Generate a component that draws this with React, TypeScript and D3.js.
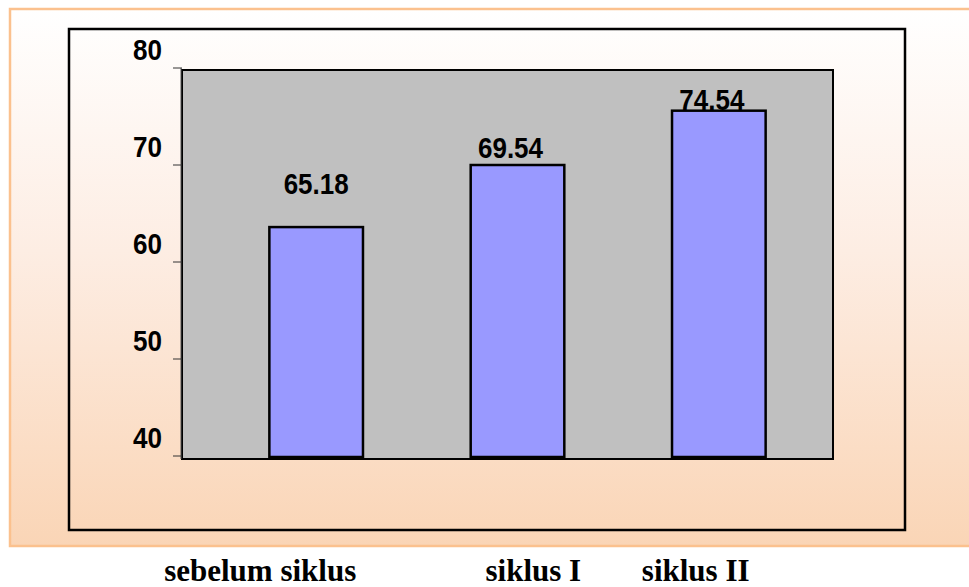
import React from "react";
import * as d3 from "d3";

const categories = ["sebelum siklus", "siklus I", "siklus II"];
// bar heights as drawn in the picture
const barValues = [63.6, 70.0, 75.6];
// value labels printed above the bars
const valueLabels = ["65.18", "69.54", "74.54"];
const labelValues = [65.18, 69.54, 74.54];
const yTicks = [40, 50, 60, 70, 80];

const W = 969;
const H = 587;

export default function App() {
  const y = d3.scaleLinear().domain([40, 80]).range([456, 68]);
  const x = d3.scaleBand<string>().domain(categories).range([215, 820]).paddingInner(0.535).paddingOuter(0.27);
  const plot = { left: 182, right: 833, top: y(80) + 2, bottom: y(40) + 3 };
  // horizontal offsets of the bottom category captions relative to bar centres
  const captionShift = [-152, -32, -77];
  const numW = (s: string) => s.split("").reduce((a, c) => a + (c === "." ? 7 : 14.5), 0);

  return (
    <svg width={W} height={H} style={{ position: "absolute", left: 0, top: 0, display: "block" }}>
      <defs>
        <linearGradient id="bg" x1="0" y1="0" x2="0" y2="1">
          <stop offset="0" stopColor="#FFFFFF" />
          <stop offset="0.45" stopColor="#FDEDE3" />
          <stop offset="1" stopColor="#FAD5B6" />
        </linearGradient>
      </defs>
      <rect x={0} y={0} width={W} height={H} fill="#FFFFFF" />
      <rect x={10} y={9} width={980} height={537} fill="url(#bg)" stroke="#FBC18E" strokeWidth={2.5} />
      <rect x={69} y={29} width={836} height={501} fill="none" stroke="#000" strokeWidth={2.5} />

      <rect
        x={plot.left}
        y={plot.top}
        width={plot.right - plot.left}
        height={plot.bottom - plot.top}
        fill="#C0C0C0"
        stroke="#000"
        strokeWidth={2}
      />
      <line x1={181} x2={181} y1={y(80)} y2={plot.bottom} stroke="#555" strokeWidth={1} />
      {yTicks.map((t) => (
        <g key={t}>
          <line x1={173} x2={182} y1={y(t)} y2={y(t)} stroke="#333" strokeWidth={1} />
          <text
            x={162}
            y={y(t) - 8}
            textAnchor="end"
            fontFamily="'Liberation Sans', Arial, sans-serif"
            fontWeight="bold"
            fontSize={29}
            textLength={numW(String(t))}
            lengthAdjust="spacingAndGlyphs"
            fill="#000"
          >
            {t}
          </text>
        </g>
      ))}

      {categories.map((c, i) => {
        const bx = x(c) as number;
        const bw = x.bandwidth();
        const top = y(barValues[i]);
        return (
          <g key={c}>
            <rect x={bx} y={top} width={bw} height={y(40) + 1 - top} fill="#9999FF" stroke="#000" strokeWidth={2.5} />
            <text
              x={bx + bw / 2 - (i === 0 ? 0 : 7)}
              y={y(labelValues[i]) - (i === 0 ? 18 : 11)}
              textAnchor="middle"
              fontFamily="'Liberation Sans', Arial, sans-serif"
              fontWeight="bold"
              fontSize={30}
              textLength={numW(valueLabels[i])}
              lengthAdjust="spacingAndGlyphs"
              fill="#000"
            >
              {valueLabels[i]}
            </text>
            <text
              x={bx + bw / 2 + captionShift[i]}
              y={581}
              textAnchor="start"
              fontFamily="'Liberation Serif', 'Times New Roman', serif"
              fontWeight="bold"
              fontSize={31}
              fill="#000"
            >
              {c}
            </text>
          </g>
        );
      })}
    </svg>
  );
}
